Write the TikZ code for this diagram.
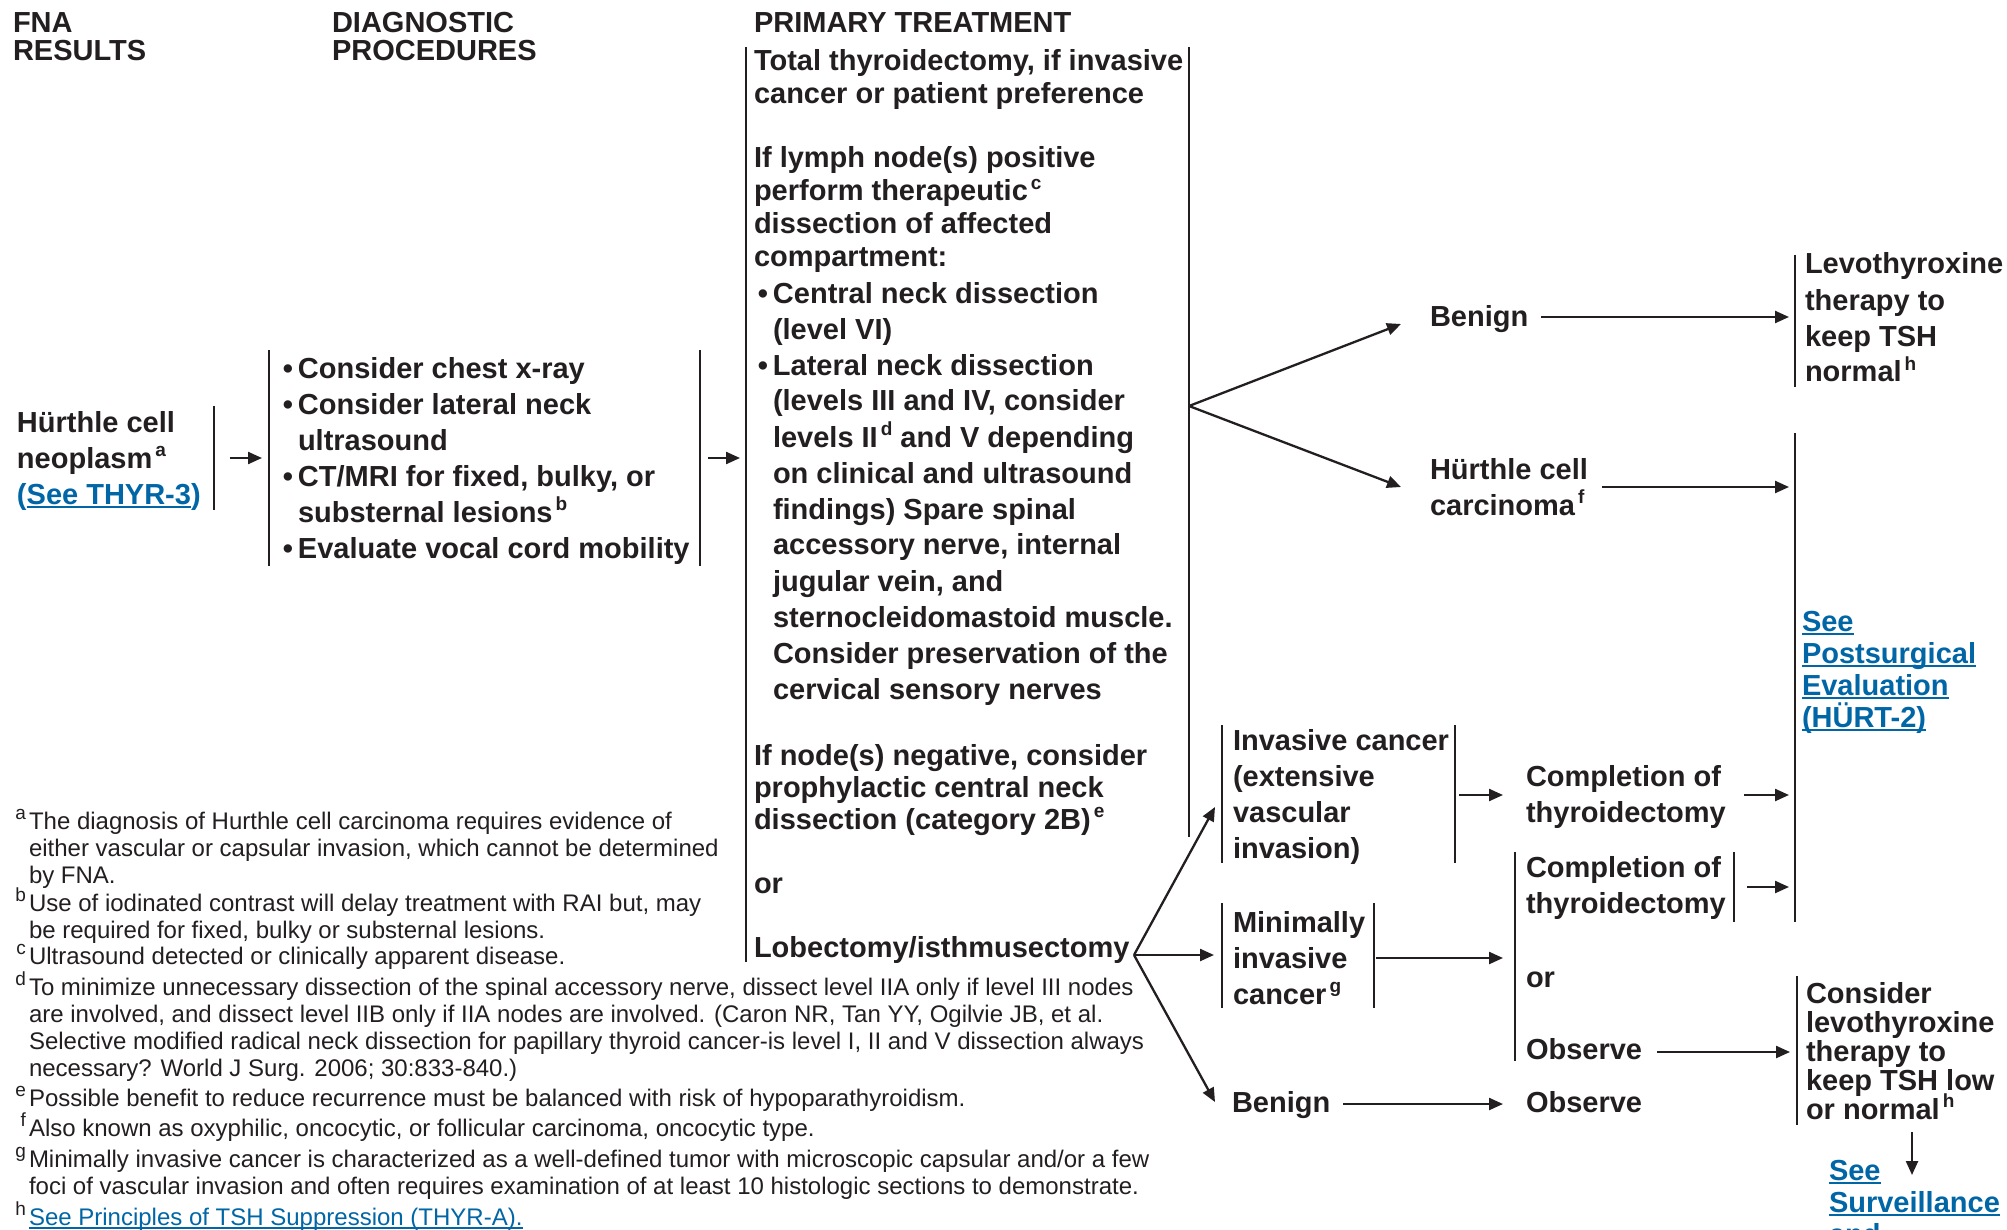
\documentclass[tikz,border=0pt]{standalone}
\usepackage{fontspec}
\setmainfont{Liberation Sans}
\usetikzlibrary{arrows.meta}
\definecolor{ink}{RGB}{35,31,32}
\definecolor{linkblue}{RGB}{0,102,166}
% stacked lines whose baseline is the first line's baseline
\newcommand{\mlines}[1]{\vtop{\let\\\cr\halign{##\hfil\cr#1\crcr}}}
\newcommand{\sups}[1]{\hspace{1.5pt}\smash{\raisebox{0.4em}{\fontsize{9.5}{9.5}\selectfont #1}}}
\newcommand{\fsup}[1]{\llap{\smash{\raisebox{0.4em}{\fontsize{9.5}{9.5}\selectfont #1}}\hspace{1.5pt}}}
\newcommand{\bul}{\llap{\textbullet\hspace{2.5pt}}}
% blue underlined link text
\newcommand{\ulbox}[1]{\setbox0\hbox{#1}\rlap{\rule[-2pt]{\wd0}{0.9pt}}\box0}
\newcommand{\lnk}[1]{{\color{linkblue}\ulbox{#1}}}
\begin{document}
\begin{tikzpicture}[x=0.5pt,y=-0.5pt,
  every node/.style={inner sep=0pt, outer sep=0pt, anchor=base west, text=ink},
  hdr/.style={font=\fontsize{14.5}{14}\selectfont\bfseries},
  bt/.style={font=\fontsize{14.5}{#1}\selectfont\bfseries},
  bt/.default=18,
  fn/.style={font=\fontsize{12}{13.5}\selectfont},
  bar/.style={draw=ink, line width=1.15pt},
  arr/.style={draw=ink, line width=1.15pt, -{Triangle[length=7pt,width=6pt]}}]

\path[use as bounding box, fill=white] (0,0) rectangle (2007,1230);

% column headings
\node[hdr] (hfna) at (13,33) {\mlines{FNA\\RESULTS}};
\node[hdr] (hdiag) at (332,33) {\mlines{DIAGNOSTIC\\PROCEDURES}};
\node[hdr] (hprim) at (754,33) {PRIMARY TREATMENT};

% FNA result
\node[bt] (hcn) at (17,432) {\mlines{Hürthle cell\\neoplasm\sups{a}\\{\color{linkblue}(\ulbox{See THYR-3})}}};
\draw[bar] (214,406) -- (214,510);
\coordinate (a1s) at (230,458);
\coordinate (a1e) at (262,458);
\draw[arr] (a1s) -- (a1e);

% diagnostic procedures
\draw[bar] (269,350) -- (269,566);
\draw[bar] (700,350) -- (700,566);
\node[bt] (diag) at (298,378) {\mlines{\bul Consider chest x-ray\\\bul Consider lateral neck\\ultrasound\\\bul CT/MRI for fixed, bulky, or\\substernal lesions\sups{b}\\\bul Evaluate vocal cord mobility}};
\coordinate (a2s) at (708,458);
\coordinate (a2e) at (740,458);
\draw[arr] (a2s) -- (a2e);

% primary treatment
\draw[bar] (746,47) -- (746,962);
\draw[bar] (1189,47) -- (1189,837);
\node[bt=16.5] (pt1) at (754,71) {\mlines{Total thyroidectomy, if invasive\\cancer or patient preference}};
\node[bt=16.5] (pt2) at (754,168) {\mlines{If lymph node(s) positive\\perform therapeutic\sups{c}\\dissection of affected\\compartment:}};
\node[bt] (pt3) at (773,303) {\mlines{\bul Central neck dissection\\(level VI)\\\bul Lateral neck dissection\\(levels III and IV, consider\\levels II\sups{d} and V depending\\on clinical and ultrasound\\findings) Spare spinal\\accessory nerve, internal\\jugular vein, and\\sternocleidomastoid muscle.\\Consider preservation of the\\cervical sensory nerves}};
\node[bt=16] (pt4) at (754,765) {\mlines{If node(s) negative, consider\\prophylactic central neck\\dissection (category 2B)\sups{e}}};
\node[bt] (ptor) at (754,893) {or};
\node[bt] (lob) at (754,957) {Lobectomy/isthmusectomy};

% after total thyroidectomy
\coordinate (f1) at (1189,406);
\coordinate (ben1in) at (1401,324);
\coordinate (hccin) at (1401,487);
\draw[arr] (f1) -- (ben1in);
\draw[arr] (f1) -- (hccin);
\node[bt] (ben1) at (1430,326) {Benign};
\coordinate (b1s) at (1541,317);
\coordinate (b1e) at (1789,317);
\draw[arr] (b1s) -- (b1e);
\draw[bar] (1795,255) -- (1795,387);
\node[bt] (levo) at (1805,274) {\mlines{Levothyroxine\\therapy to\\keep TSH\\normal\sups{h}}};
\node[bt] (hcc) at (1430,479) {\mlines{Hürthle cell\\carcinoma\sups{f}}};
\coordinate (hcs) at (1602,487);
\coordinate (hce) at (1789,487);
\draw[arr] (hcs) -- (hce);
\draw[bar] (1795,433) -- (1795,922);
\node[bt=16] (post) at (1802,631) {\mlines{\lnk{See}\\\lnk{Postsurgical}\\\lnk{Evaluation}\\\lnk{(HÜRT-2)}}};

% after lobectomy
\coordinate (f2) at (1134,955);
\coordinate (invin) at (1215,807);
\coordinate (minin) at (1214,955);
\coordinate (ben2in) at (1215,1102);
\draw[arr] (f2) -- (invin);
\draw[arr] (f2) -- (minin);
\draw[arr] (f2) -- (ben2in);

\draw[bar] (1222,725) -- (1222,863);
\draw[bar] (1455,725) -- (1455,863);
\node[bt] (inv) at (1233,750) {\mlines{Invasive cancer\\(extensive\\vascular\\invasion)}};
\coordinate (i1s) at (1459,795);
\coordinate (i1e) at (1503,795);
\draw[arr] (i1s) -- (i1e);
\node[bt] (comp1) at (1526,786) {\mlines{Completion of\\thyroidectomy}};
\coordinate (c1s) at (1744,795);
\coordinate (c1e) at (1789,795);
\draw[arr] (c1s) -- (c1e);

\draw[bar] (1222,903) -- (1222,1008);
\draw[bar] (1374,903) -- (1374,1008);
\node[bt] (mini) at (1233,932) {\mlines{Minimally\\invasive\\cancer\sups{g}}};
\coordinate (m1s) at (1376,958);
\coordinate (m1e) at (1503,958);
\draw[arr] (m1s) -- (m1e);

\draw[bar] (1515,852) -- (1515,1061);
\draw[bar] (1734,852) -- (1734,922);
\node[bt] (comp2) at (1526,877) {\mlines{Completion of\\thyroidectomy}};
\coordinate (c2s) at (1747,887);
\coordinate (c2e) at (1789,887);
\draw[arr] (c2s) -- (c2e);
\node[bt] (or2) at (1526,987) {or};
\node[bt] (obs1) at (1526,1059) {Observe};
\coordinate (o1s) at (1657,1052);
\coordinate (o1e) at (1790,1052);
\draw[arr] (o1s) -- (o1e);

\node[bt] (ben2) at (1232,1112) {Benign};
\coordinate (b2s) at (1343,1104);
\coordinate (b2e) at (1503,1104);
\draw[arr] (b2s) -- (b2e);
\node[bt] (obs2) at (1526,1112) {Observe};

\draw[bar] (1797,976) -- (1797,1125);
\node[bt=14.5] (cons) at (1806,1003) {\mlines{Consider\\levothyroxine\\therapy to\\keep TSH low\\or normal\sups{h}}};
\coordinate (d1s) at (1912,1132);
\coordinate (d1e) at (1912,1175);
\draw[arr] (d1s) -- (d1e);
\node[bt=16] (surv) at (1829,1180) {\mlines{\lnk{See}\\\lnk{Surveillance}\\\lnk{and}}};

% footnotes
\node[fn] (fna) at (29,829) {\mlines{\fsup{a}The diagnosis of Hurthle cell carcinoma requires evidence of\\either vascular or capsular invasion, which cannot be determined\\by FNA.}};
\node[fn] (fnb) at (29,911) {\mlines{\fsup{b}Use of iodinated contrast will delay treatment with RAI but, may\\be required for fixed, bulky or substernal lesions.}};
\node[fn] (fnc) at (29,964) {\fsup{c}Ultrasound detected or clinically apparent disease.};
\node[fn] (fnd) at (29,995) {\mlines{\fsup{d}To minimize unnecessary dissection of the spinal accessory nerve, dissect level IIA only if level III nodes\\are involved, and dissect level IIB only if IIA nodes are involved. (Caron NR, Tan YY, Ogilvie JB, et al.\\Selective modified radical neck dissection for papillary thyroid cancer-is level I, II and V dissection always\\necessary? World J Surg. 2006; 30:833-840.)}};
\node[fn] (fne) at (29,1106) {\fsup{e}Possible benefit to reduce recurrence must be balanced with risk of hypoparathyroidism.};
\node[fn] (fnf) at (29,1136) {\fsup{f}Also known as oxyphilic, oncocytic, or follicular carcinoma, oncocytic type.};
\node[fn] (fng) at (29,1167) {\mlines{\fsup{g}Minimally invasive cancer is characterized as a well-defined tumor with microscopic capsular and/or a few\\foci of vascular invasion and often requires examination of at least 10 histologic sections to demonstrate.}};
\node[fn] (fnh) at (29,1225) {\fsup{h}\lnk{See Principles of TSH Suppression (THYR-A).}};
\end{tikzpicture}
\end{document}
